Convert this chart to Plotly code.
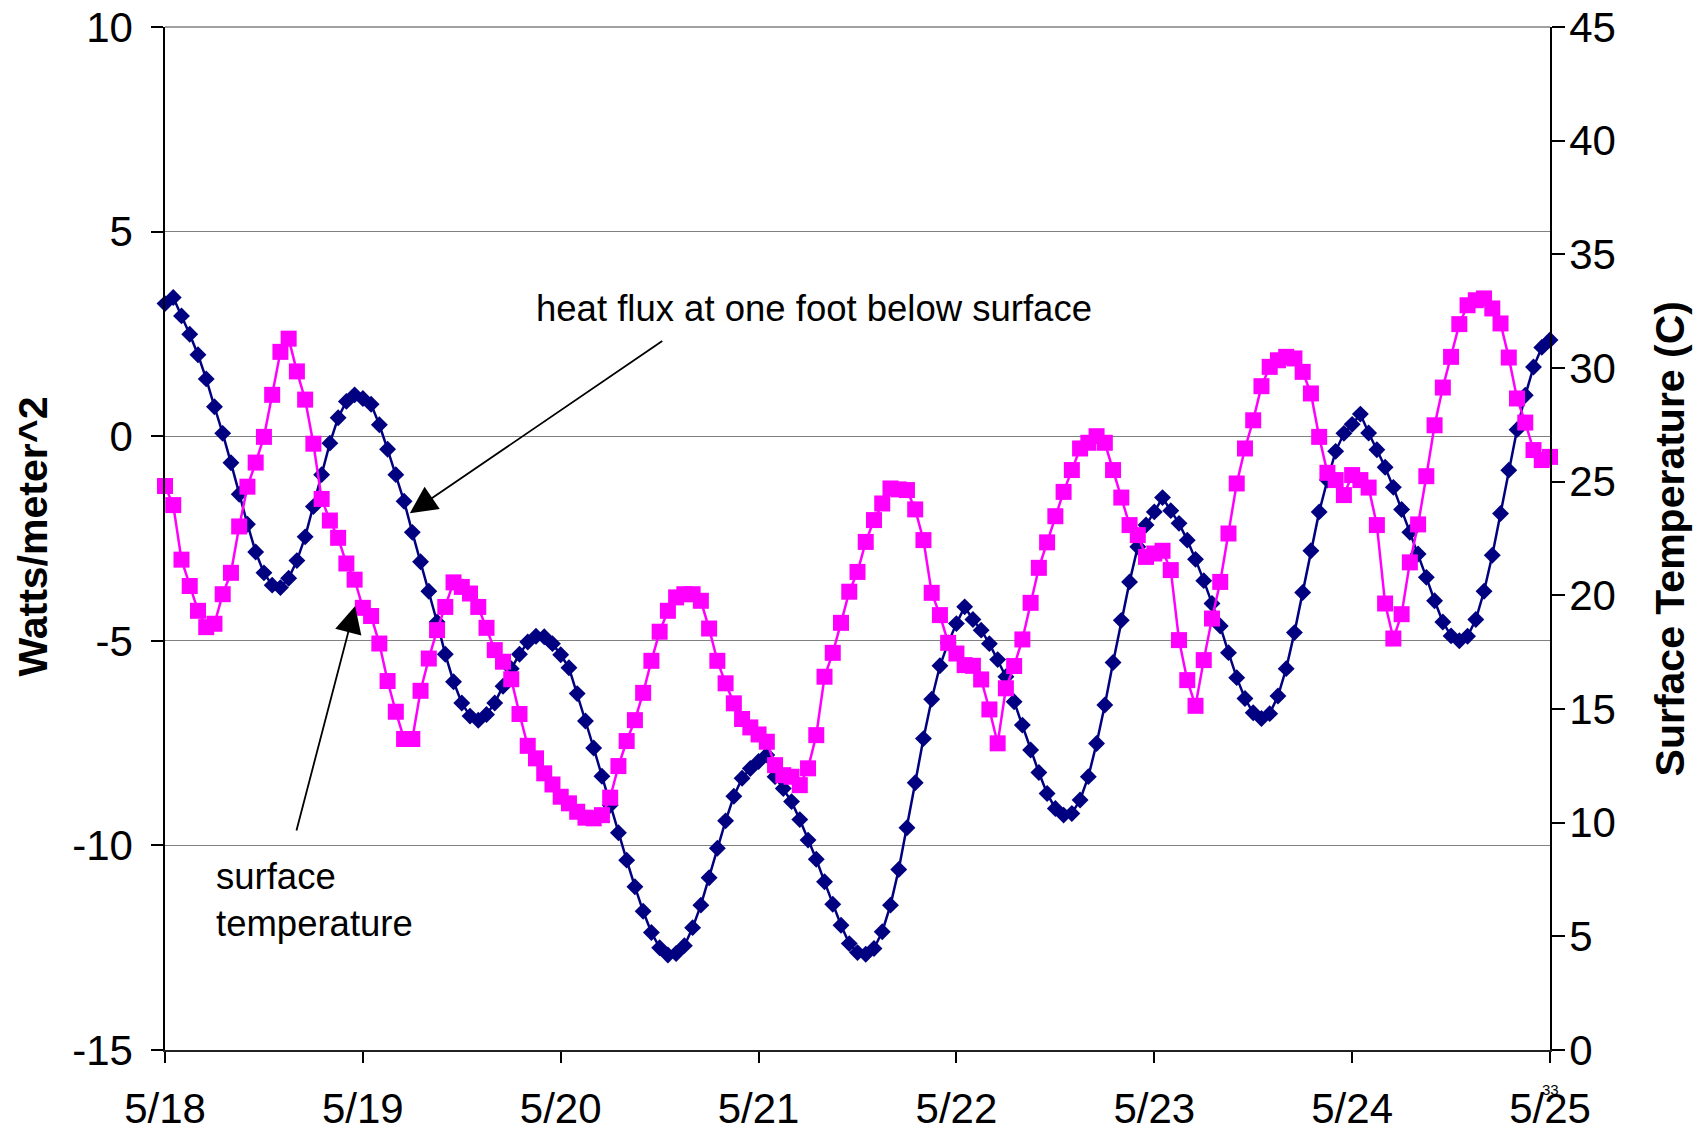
import plotly.graph_objects as go

# hourly readings, 5/18 00:00 .. 5/25 00:00
hours = list(range(169))
day_ticks = [0, 24, 48, 72, 96, 120, 144, 168]
day_labels = ["5/18", "5/19", "5/20", "5/21", "5/22", "5/23", "5/24", "5/25"]

heat_flux = [
    3.24, 3.39, 2.94, 2.49, 1.99, 1.40, 0.72, 0.07, -0.65, -1.42, -2.15, -2.83,
    -3.34, -3.64, -3.70, -3.47, -3.04, -2.46, -1.72, -0.94, -0.17, 0.45, 0.85, 1.01,
    0.92, 0.78, 0.28, -0.32, -0.94, -1.59, -2.35, -3.07, -3.79, -4.54, -5.33, -6.00,
    -6.52, -6.84, -6.94, -6.80, -6.52, -6.11, -5.68, -5.33, -5.03, -4.89, -4.90, -5.07,
    -5.34, -5.66, -6.29, -6.96, -7.62, -8.31, -9.02, -9.69, -10.36, -11.01, -11.61, -12.13,
    -12.50, -12.68, -12.64, -12.45, -12.01, -11.46, -10.79, -10.07, -9.40, -8.80, -8.36, -8.12,
    -7.95, -7.79, -8.32, -8.61, -8.93, -9.37, -9.87, -10.34, -10.89, -11.44, -11.95, -12.40,
    -12.62, -12.66, -12.52, -12.11, -11.46, -10.59, -9.57, -8.47, -7.39, -6.43, -5.61, -5.05,
    -4.58, -4.17, -4.48, -4.74, -5.07, -5.46, -5.88, -6.49, -7.06, -7.67, -8.22, -8.73,
    -9.10, -9.26, -9.22, -8.89, -8.32, -7.51, -6.57, -5.53, -4.50, -3.56, -2.70, -2.17,
    -1.85, -1.50, -1.82, -2.13, -2.54, -3.01, -3.53, -4.09, -4.64, -5.29, -5.90, -6.41,
    -6.76, -6.90, -6.78, -6.35, -5.68, -4.80, -3.82, -2.80, -1.85, -1.07, -0.37, 0.07,
    0.29, 0.54, 0.08, -0.33, -0.76, -1.25, -1.79, -2.35, -2.88, -3.45, -4.02, -4.54,
    -4.88, -5.00, -4.89, -4.48, -3.79, -2.91, -1.89, -0.83, 0.16, 1.00, 1.69, 2.17,
    2.35,
]

surface_temp = [
    24.81, 23.97, 21.57, 20.41, 19.32, 18.60, 18.75, 20.05, 20.99, 23.03, 24.78, 25.84,
    26.97, 28.82, 30.71, 31.29, 29.85, 28.61, 26.67, 24.24, 23.29, 22.53, 21.40, 20.69,
    19.45, 19.09, 17.88, 16.23, 14.88, 13.68, 13.68, 15.80, 17.22, 18.47, 19.49, 20.57,
    20.37, 20.08, 19.49, 18.57, 17.59, 17.08, 16.31, 14.78, 13.38, 12.83, 12.17, 11.68,
    11.14, 10.85, 10.48, 10.22, 10.19, 10.33, 11.10, 12.49, 13.59, 14.51, 15.71, 17.12,
    18.40, 19.32, 19.91, 20.05, 20.05, 19.76, 18.54, 17.12, 16.13, 15.25, 14.56, 14.19,
    13.88, 13.56, 12.53, 12.09, 12.02, 11.65, 12.39, 13.85, 16.42, 17.47, 18.79, 20.16,
    21.03, 22.35, 23.31, 24.04, 24.70, 24.66, 24.63, 23.78, 22.43, 20.11, 19.13, 17.91,
    17.44, 16.93, 16.90, 16.30, 14.98, 13.49, 15.91, 16.89, 18.06, 19.67, 21.21, 22.33,
    23.48, 24.55, 25.51, 26.46, 26.71, 27.00, 26.71, 25.51, 24.30, 23.09, 22.65, 21.69,
    21.84, 21.96, 21.11, 18.03, 16.27, 15.14, 17.15, 18.98, 20.59, 22.72, 24.92, 26.46,
    27.70, 29.20, 30.05, 30.34, 30.49, 30.42, 29.83, 28.88, 26.97, 25.39, 25.07, 24.41,
    25.29, 25.07, 24.74, 23.09, 19.64, 18.10, 19.17, 21.45, 23.12, 25.24, 27.48, 29.14,
    30.49, 31.93, 32.76, 32.98, 33.06, 32.62, 31.96, 30.46, 28.66, 27.60, 26.39, 25.95,
    26.09,
]

left_ticks = [-15, -10, -5, 0, 5, 10]
left_labels = ["-15", "-10", "-5", "0", "5", "10"]
right_ticks = [0, 5, 10, 15, 20, 25, 30, 35, 40, 45]
right_labels = ["0", "5", "10", "15", "20", "25", "30", "35", "40", "45"]

FONT = "Liberation Sans, Arial, sans-serif"

fig = go.Figure()
fig.add_trace(go.Scatter(
    x=hours, y=heat_flux, mode="lines+markers", yaxis="y", cliponaxis=False,
    line=dict(color="#000080", width=2.5),
    marker=dict(symbol="diamond", size=13, color="#000080"),
    name="heat flux",
))
fig.add_trace(go.Scatter(
    x=hours, y=surface_temp, mode="lines+markers", yaxis="y2", cliponaxis=False,
    line=dict(color="#FF00FF", width=2.5),
    marker=dict(symbol="square", size=16, color="#FF00FF"),
    name="surface temperature",
))

fig.update_layout(
    width=1706, height=1131,
    margin=dict(l=165, r=156, t=27, b=81, autoexpand=False),
    paper_bgcolor="white", plot_bgcolor="white",
    showlegend=False,
    font=dict(family=FONT, size=42, color="black"),
    xaxis=dict(
        range=[0, 168], tickmode="array", tickvals=day_ticks, ticktext=day_labels,
        ticks="outside", ticklen=11, tickwidth=1.5, tickcolor="black",
        showline=True, linecolor="#222222", linewidth=2, showgrid=False, zeroline=False,
        tickfont=dict(size=42), ticklabelstandoff=10, automargin=False,
    ),
    yaxis=dict(
        range=[-15, 10], tickmode="array", tickvals=left_ticks, ticktext=left_labels,
        ticks="outside", ticklen=12, tickwidth=1.5, tickcolor="black",
        showline=True, linecolor="black", linewidth=1.5,
        showgrid=True, gridcolor="#808080", gridwidth=1.3, zeroline=False,
        tickfont=dict(size=42), ticklabelstandoff=10, automargin=False,
    ),
    yaxis2=dict(
        range=[0, 45], tickmode="array", tickvals=right_ticks, ticktext=right_labels,
        overlaying="y", side="right",
        anchor="x", ticks="outside", ticklen=13, tickwidth=1.5, tickcolor="black",
        showline=True, linecolor="black", linewidth=1.5, showgrid=False, zeroline=False,
        tickfont=dict(size=42), ticklabelstandoff=-4, automargin=False,
    ),
    yaxis3=dict(
        range=[0, 45], tickmode="array", tickvals=right_ticks, overlaying="y", side="right",
        anchor="x", ticks="inside", ticklen=13, tickwidth=1.5, tickcolor="black",
        showticklabels=False, showline=False, showgrid=False, zeroline=False,
        automargin=False,
    ),
    shapes=[dict(type="line", xref="paper", yref="paper", x0=0, x1=1, y0=1, y1=1,
                 line=dict(color="#808080", width=1.3))],
)

annotations = [
    dict(text="<b>Watts/meter^2</b>", xref="paper", yref="paper", x=-0.0953, y=0.502,
         textangle=-90, showarrow=False, font=dict(size=41), xanchor="center", yanchor="middle"),
    dict(text="<b>Surface Temperature (C)</b>", xref="paper", yref="paper", x=1.0866, y=0.5,
         textangle=-90, showarrow=False, font=dict(size=41), xanchor="center", yanchor="middle"),
    dict(text="heat flux at one foot below surface", xref="x", yref="y", x=44.8, y=3.13,
         showarrow=False, xanchor="left", yanchor="middle", font=dict(size=36.5)),
    dict(text="", xref="x", yref="y", x=29.7, y=-1.88, axref="x", ayref="y", ax=60.5, ay=2.35,
         showarrow=True, arrowhead=2, arrowsize=3, arrowwidth=1.8, arrowcolor="black"),
    dict(text="surface<br>temperature", xref="x", yref="y", x=5.95, y=-11.34,
         showarrow=False, xanchor="left", yanchor="middle", align="left", font=dict(size=36.5)),
    dict(text="", xref="x", yref="y", x=23.06, y=-4.15, axref="x", ayref="y", ax=15.9, ay=-9.67,
         showarrow=True, arrowhead=2, arrowsize=3, arrowwidth=1.8, arrowcolor="black"),
    dict(text="33", xref="x", yref="paper", x=168, y=0, yshift=-39, showarrow=False,
         font=dict(size=15), xanchor="center", yanchor="middle"),
]
fig.update_layout(annotations=annotations)

fig.write_html("out.html")
